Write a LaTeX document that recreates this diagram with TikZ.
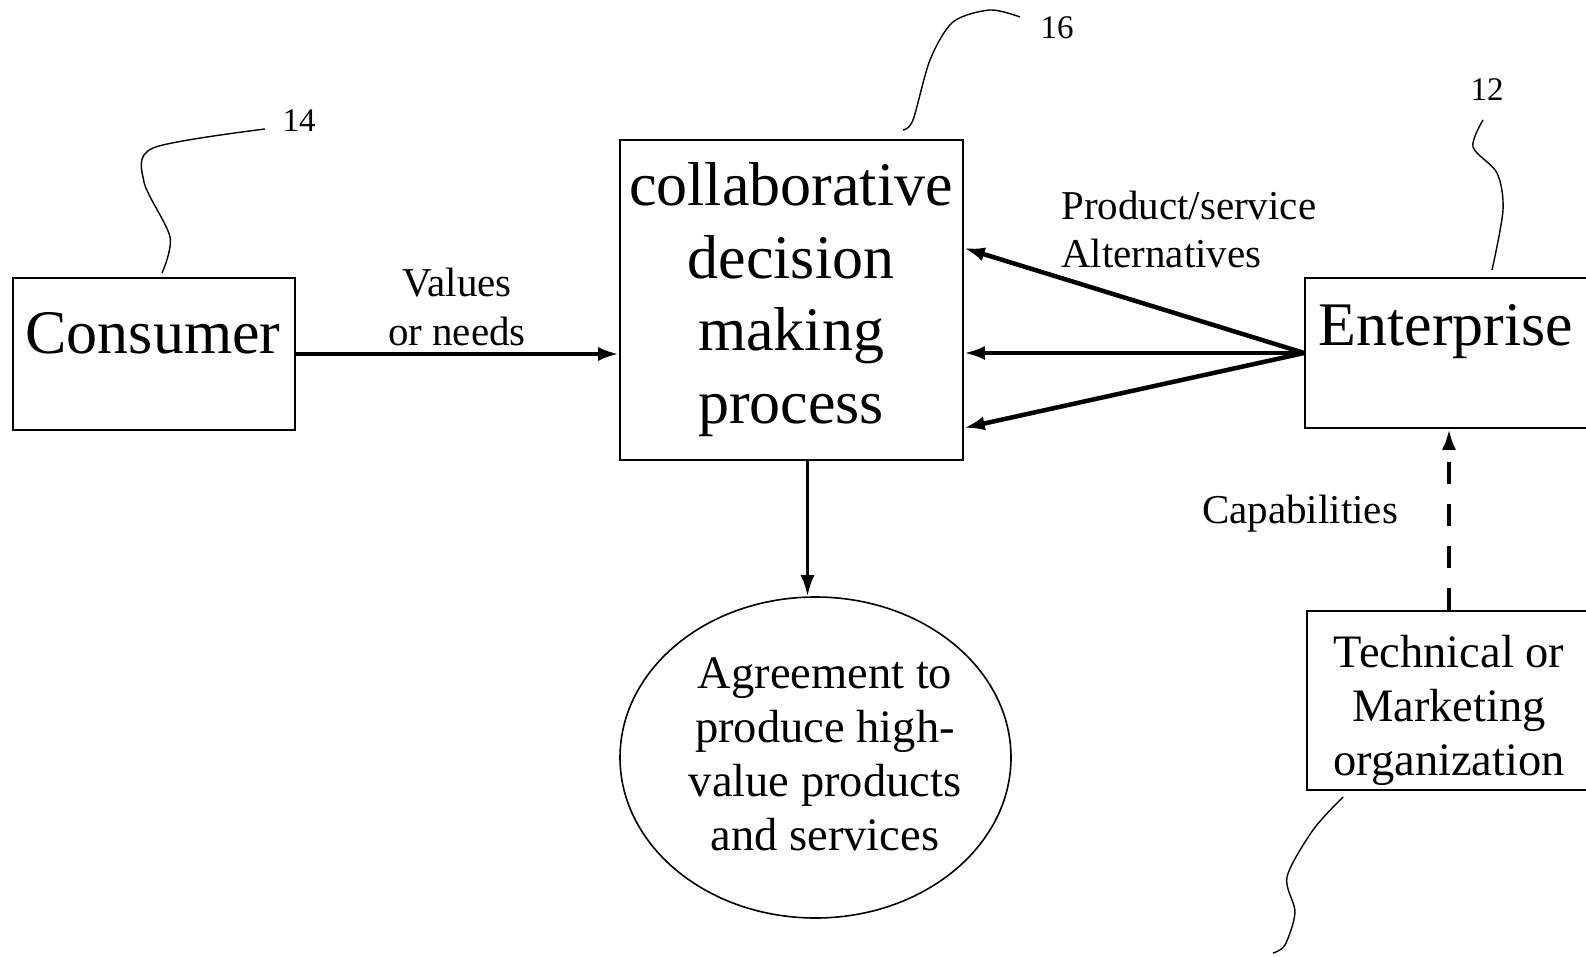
\documentclass[tikz,border=0pt]{standalone}
\usepackage{fontspec}
\setmainfont{Liberation Serif}
\usetikzlibrary{arrows.meta,shapes.geometric}

\begin{document}
\begin{tikzpicture}[x=1pt,y=-1pt,>={Latex[length=21pt,width=14pt]}]
	\tikzstyle{block}=[draw,shape=rectangle,line width=1.6pt,inner sep=0pt]
	\tikzstyle{oval}=[draw,shape=ellipse,line width=1.6pt,inner sep=0pt]
	\tikzstyle{bigtext}=[font=\fontsize{62}{72.5}\selectfont,align=center,inner sep=0pt,anchor=base]
	\tikzstyle{midtext}=[font=\fontsize{46.5}{54}\selectfont,align=center,inner sep=0pt,anchor=base]
	\tikzstyle{annot}=[font=\fontsize{41}{48.5}\selectfont,inner sep=0pt,anchor=base]
	\tikzstyle{refnum}=[font=\fontsize{33}{36}\selectfont,inner sep=0pt]
	\tikzstyle{leader}=[line width=1.4pt,smooth]
	\tikzstyle{flow}=[->,line width=4.5pt]

	\useasboundingbox (0,0) rectangle (1586,957);

	% boxes
	\node[block,minimum width=282pt,minimum height=152pt](cons) at (154,354){};
	\node[block,minimum width=343pt,minimum height=320pt](cdm) at (791.5,300){};
	\node[block,minimum width=283pt,minimum height=150pt](ent) at (1446.5,353){};
	\node[block,minimum width=284pt,minimum height=179pt](tech) at (1449,700.5){};
	\node[oval,minimum width=391pt,minimum height=321pt](agree) at (815.5,757.5){};

	% texts (base = last line)
	\node[bigtext](cons-txt) at (153,353){Consumer};
	\node[bigtext](cdm-txt) at (791,423){collaborative\\decision\\making\\process};
	\node[bigtext](ent-txt) at (1446,345){Enterprise};
	\node[midtext](tech-txt) at (1449,775){Technical or\\Marketing\\organization};
	\node[midtext](agree-txt) at (825,850){Agreement to\\produce high-\\value products\\and services};

	% connectors
	\draw[flow] (cons.east) -- (cdm.west |- cons.east);
	\foreach \s in {52,-53,-128}
	{
	  \draw[flow] (ent.west) -- ([yshift=\s pt]cdm.east);
	}
	\draw[->,line width=3.2pt] ([xshift=16pt]cdm.south) -- ([xshift=16pt]cdm.south |- agree.north);
	\draw[flow,dash pattern=on 22pt off 20pt] (tech.north) -- (tech.north |- ent.south);

	\node[annot,align=center](vals) at (457,345){Values\\or needs};
	\node[annot,align=left,anchor=base west](alts) at (1061,268){Product/service\\Alternatives};
	\node[annot](caps) at (1300,523){Capabilities};

	% reference numerals
	\node[refnum](n14) at (299,121){14};
	\node[refnum](n16) at (1057,28){16};
	\node[refnum](n12) at (1487,90){12};
	\draw[leader] plot coordinates {(265,129) (153,148) (144,182) (170,237) (162,273)};
	\draw[leader] plot coordinates {(1020,17) (990,10) (953,22) (930,60) (913,120) (903,130)};
	\draw[leader] plot coordinates {(1483,120) (1473,147) (1497,173) (1503,210) (1492,270)};
	\draw[leader] plot coordinates {(1343,797) (1313,830) (1287,877) (1295,912) (1285,945) (1273,953)};

\end{tikzpicture}
\end{document}
